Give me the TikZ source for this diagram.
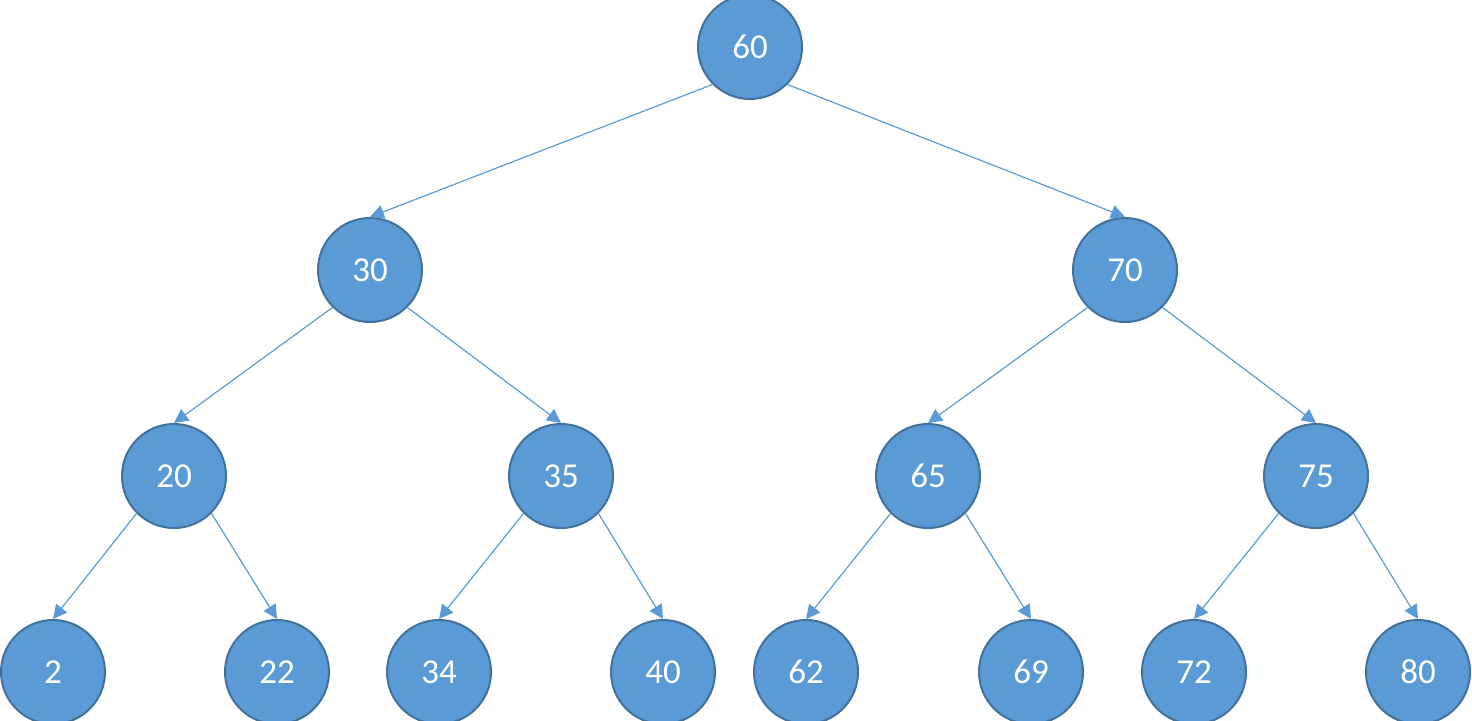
\documentclass[tikz,border=0pt]{standalone}
\usepackage{fontspec}
\setmainfont{Carlito}
\usetikzlibrary{arrows.meta}
\definecolor{keyfill}{HTML}{5B9BD5}
\definecolor{keyline}{HTML}{41719C}
\begin{document}
\begin{tikzpicture}[x=0.5pt,y=-0.5pt,
    key/.style={circle,draw=keyline,line width=1pt,fill=keyfill,
        minimum size=52pt,inner sep=0pt,text=white,
        font=\fontsize{17.5}{20}\selectfont},
    edge/.style={-{Triangle[length=7pt,width=7pt]},draw=keyfill,
        line width=0.6pt}]

\useasboundingbox (0,0) rectangle (1472,720);

\node [key] (k60) at (750,47) {60};

\node [key] (k30) at (370,270) {30};
\node [key] (k70) at (1125,270) {70};

\node [key] (k20) at (174,476) {20};
\node [key] (k35) at (561,476) {35};
\node [key] (k65) at (928,476) {65};
\node [key] (k75) at (1316,476) {75};

\node [key] (k2) at (53,672) {2};
\node [key] (k22) at (277,672) {22};
\node [key] (k34) at (439,672) {34};
\node [key] (k40) at (663,672) {40};
\node [key] (k62) at (806,672) {62};
\node [key] (k69) at (1031,672) {69};
\node [key] (k72) at (1194,672) {72};
\node [key] (k80) at (1418,672) {80};

\path
    (k60.south west) edge [edge] (k30.north)
    (k60.south east) edge [edge] (k70.north)
    (k30.south west) edge [edge] (k20.north)
    (k30.south east) edge [edge] (k35.north)
    (k70.south west) edge [edge] (k65.north)
    (k70.south east) edge [edge] (k75.north)
    (k20.south west) edge [edge] (k2.north)
    (k20.south east) edge [edge] (k22.north)
    (k35.south west) edge [edge] (k34.north)
    (k35.south east) edge [edge] (k40.north)
    (k65.south west) edge [edge] (k62.north)
    (k65.south east) edge [edge] (k69.north)
    (k75.south west) edge [edge] (k72.north)
    (k75.south east) edge [edge] (k80.north)
;

\end{tikzpicture}
\end{document}
